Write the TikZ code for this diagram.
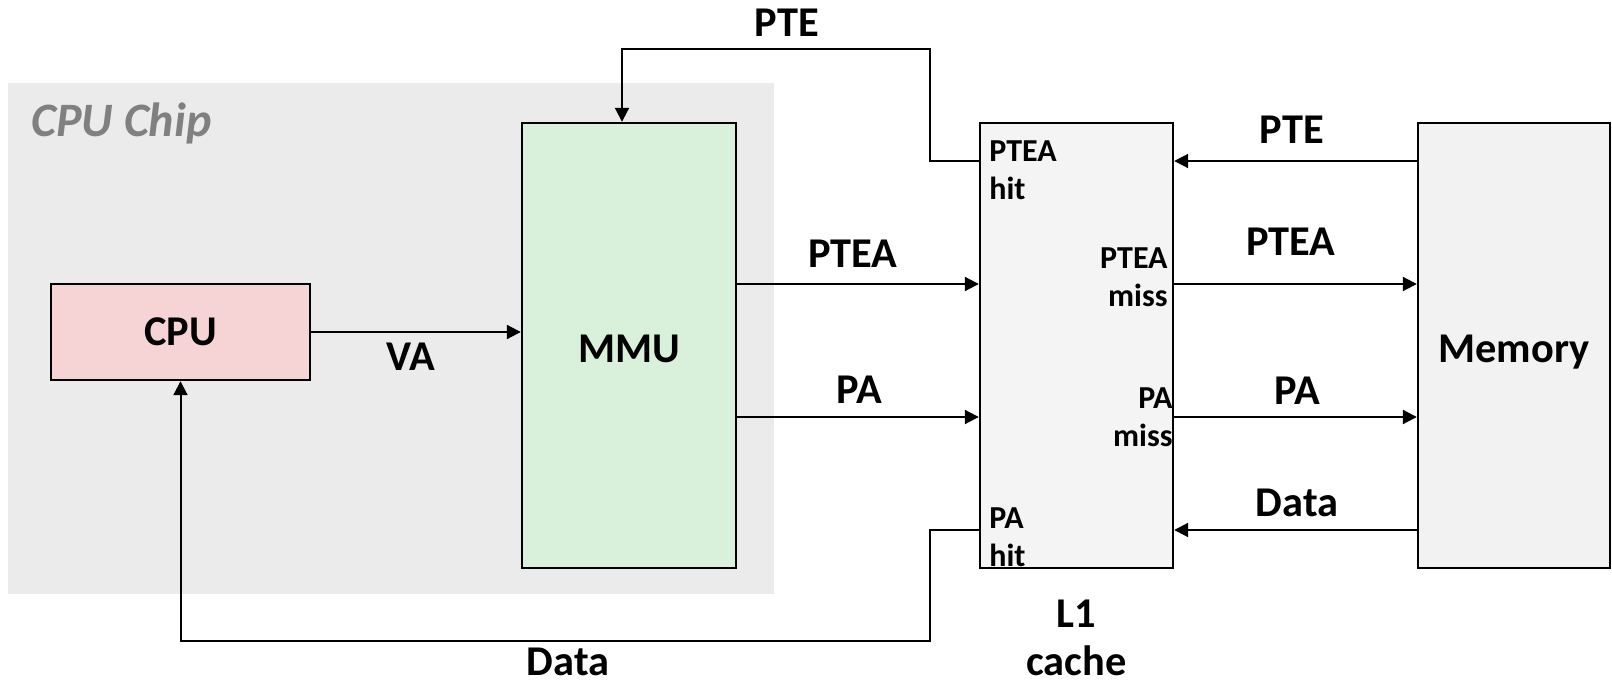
\documentclass[tikz,border=0pt]{standalone}
\usepackage{fontspec}
\setmainfont{Carlito}
\usetikzlibrary{arrows.meta, positioning}
\definecolor{chipfill}{HTML}{EBEBEB}
\definecolor{chiptext}{HTML}{808080}
\definecolor{cpufill}{HTML}{F6D3D4}
\definecolor{mmufill}{HTML}{D9F1DA}
\definecolor{cachefill}{HTML}{F4F4F4}
\definecolor{memfill}{HTML}{F2F2F2}
\tikzset{
  unitbox/.style = {draw=black, line width=1.2pt, inner sep=0pt,
                    font=\bfseries\fontsize{21.2}{25}\selectfont},
  sig/.style     = {-{Triangle[length=7pt,width=7pt]}, line width=1pt},
  biglbl/.style  = {font=\bfseries\fontsize{21.2}{24}\selectfont, inner sep=0pt, anchor=base},
  portlbl/.style = {font=\bfseries\fontsize{16}{19}\selectfont, inner sep=0pt},
}

\begin{document}
\begin{tikzpicture}[x=0.5pt, y=-0.5pt]
\useasboundingbox (0,0) rectangle (1612,686);
% chip area
\node[fill=chipfill, minimum width=383pt, minimum height=255.5pt, inner sep=0pt] (chip) at (391,338.5) {};
\node[font=\bfseries\itshape\fontsize{24}{28}\selectfont, text=chiptext,
      anchor=base west, inner sep=0pt] (chiplbl) at (31,136) {CPU Chip};

% units
\node[unitbox, fill=cpufill,   minimum width=129.5pt, minimum height=48pt]    (cpu) at (180.5,332)   {CPU};
\node[unitbox, fill=mmufill,   minimum width=107pt,   minimum height=222.5pt,
      text height=17pt, text depth=0pt] (mmu) at (629,345.5) {MMU};
\node[unitbox, fill=cachefill, minimum width=96.5pt,  minimum height=222.5pt] (l1)  at (1076.5,345.5) {};
\node[unitbox, fill=memfill,   minimum width=96pt,    minimum height=222.5pt,
      text height=17pt, text depth=0pt] (mem) at (1514,345.5) {Memory};

% rows and bends
\coordinate (pterow)  at (0,161);
\coordinate (ptearow) at (0,284);
\coordinate (parow)   at (0,417);
\coordinate (datarow) at (0,530);
\coordinate (hitx)    at (930,0);
\coordinate (topy)    at (0,49);
\coordinate (boty)    at (0,641);
\coordinate (mmutap)  at (622,0);

% connectors
\draw[sig] (cpu.east) -- (mmu.west |- cpu.east);
\draw[sig] (mmu.east |- ptearow) -- (l1.west |- ptearow);
\draw[sig] (mmu.east |- parow) -- (l1.west |- parow);
\draw[sig] (l1.west |- pterow) -| (hitx |- topy) -| (mmutap |- mmu.north);
\draw[sig] (l1.west |- datarow) -| (hitx |- boty) -| (cpu.south);
\draw[sig] (mem.west |- pterow) -- (l1.east |- pterow);
\draw[sig] (l1.east |- ptearow) -- (mem.west |- ptearow);
\draw[sig] (l1.east |- parow) -- (mem.west |- parow);
\draw[sig] (mem.west |- datarow) -- (l1.east |- datarow);

% signal labels
\node[biglbl] (vaLbl)    at (411,370)  {VA};
\node[biglbl] (pteLbl)   at (787,36)   {PTE};
\node[biglbl] (pteaLbl)  at (853,267)  {PTEA};
\node[biglbl] (paLbl)    at (859,403)  {PA};
\node[biglbl] (dataLbl)  at (568,675)  {Data};
\node[biglbl] (mpteLbl)  at (1292,143) {PTE};
\node[biglbl] (mpteaLbl) at (1291,255) {PTEA};
\node[biglbl] (mpaLbl)   at (1297,404) {PA};
\node[biglbl] (mdataLbl) at (1297,516) {Data};
\node[biglbl, anchor=north, align=center] (l1Lbl) at (1076.5,600) {L1\\cache};

% port labels
\node[portlbl, anchor=north west, align=left]  (pteahit)  at (989,140)  {PTEA\\hit};
\node[portlbl, anchor=north east, align=right] (pteamiss) at (1168,247) {PTEA\\miss};
\node[portlbl, anchor=north east, align=right] (pamiss)   at (1173,387) {PA\\miss};
\node[portlbl, anchor=north west, align=left]  (pahit)    at (989,507)  {PA\\hit};
\end{tikzpicture}
\end{document}
